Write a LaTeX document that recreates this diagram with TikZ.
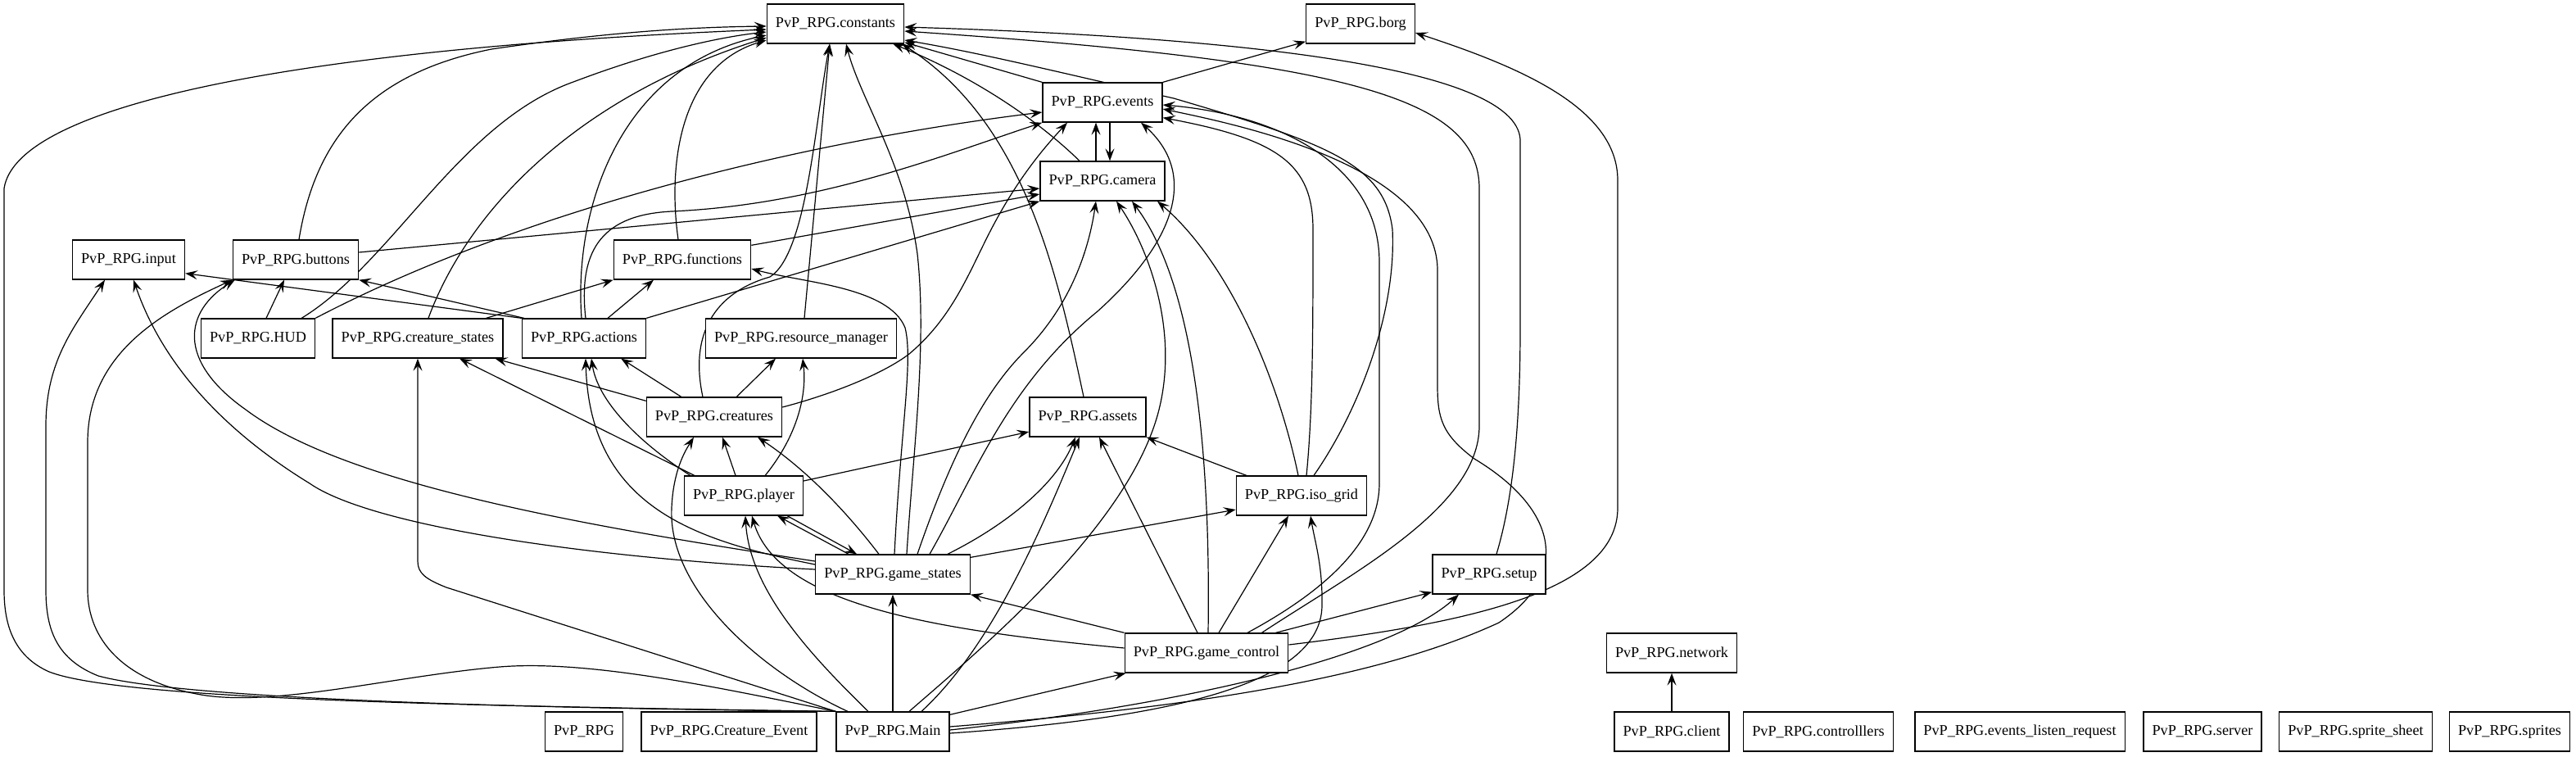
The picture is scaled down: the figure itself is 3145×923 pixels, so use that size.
\documentclass[tikz,border=0pt]{standalone}
\usepackage{fontspec}
\setmainfont{Liberation Serif}
\usepackage{tikz}
\usetikzlibrary{arrows.meta, calc, backgrounds}
\tikzset{
  modbox/.style={
    draw, line width=0.65pt, fill=white,
    inner xsep=5.3pt, inner ysep=0pt, minimum height=24pt,
    font=\fontsize{9.1}{10}\selectfont
  },
  dep/.style={-{Stealth[length=7.5pt, width=5.5pt, inset=3pt]}, line width=0.6pt},
}

\begin{document}
\begin{tikzpicture}[x=0.5pt, y=-0.5pt]
  \useasboundingbox (0,0) rectangle (3145,923);

  \node[modbox] (constants) at (1020,29) {PvP\_RPG.constants};
  \node[modbox] (borg) at (1661,29) {PvP\_RPG.borg};
  \node[modbox] (events) at (1346,125) {PvP\_RPG.events};
  \node[modbox] (camera) at (1346,221) {PvP\_RPG.camera};
  \node[modbox] (input) at (157,317) {PvP\_RPG.input};
  \node[modbox] (buttons) at (361,317) {PvP\_RPG.buttons};
  \node[modbox] (functions) at (833,317) {PvP\_RPG.functions};
  \node[modbox] (hud) at (315,413) {PvP\_RPG.HUD};
  \node[modbox] (cstates) at (510,413) {PvP\_RPG.creature\_states};
  \node[modbox] (actions) at (713,413) {PvP\_RPG.actions};
  \node[modbox] (resmgr) at (978,413) {PvP\_RPG.resource\_manager};
  \node[modbox] (creatures) at (872,509) {PvP\_RPG.creatures};
  \node[modbox] (assets) at (1328,509) {PvP\_RPG.assets};
  \node[modbox] (player) at (908,605) {PvP\_RPG.player};
  \node[modbox] (isogrid) at (1589,605) {PvP\_RPG.iso\_grid};
  \node[modbox] (gstates) at (1090,701) {PvP\_RPG.game\_states};
  \node[modbox] (setup) at (1818,701) {PvP\_RPG.setup};
  \node[modbox] (gcontrol) at (1473,797) {PvP\_RPG.game\_control};
  \node[modbox] (network) at (2041,797) {PvP\_RPG.network};
  \node[modbox] (pkg) at (713,893) {PvP\_RPG};
  \node[modbox] (cevent) at (890,893) {PvP\_RPG.Creature\_Event};
  \node[modbox] (main) at (1090,893) {PvP\_RPG.Main};
  \node[modbox] (client) at (2041,893) {PvP\_RPG.client};
  \node[modbox] (ctrls) at (2220,893) {PvP\_RPG.controlllers};
  \node[modbox] (elr) at (2466,893) {PvP\_RPG.events\_listen\_request};
  \node[modbox] (server) at (2689,893) {PvP\_RPG.server};
  \node[modbox] (sheet) at (2876,893) {PvP\_RPG.sprite\_sheet};
  \node[modbox] (sprites) at (3064,893) {PvP\_RPG.sprites};

  \begin{scope}[on background layer]
  \fill[white] (0,0) rectangle (3145,923);

  % Main
  \draw[dep] (main.north west) .. controls (600,862) and (150,855) .. (60,820) .. controls (15,800) and (5,760) .. (5,720) -- (5,230) .. controls (20,130) and (350,60) .. ($(constants.west)+(0,7)$);
  \draw[dep] (main.north west) .. controls (600,864) and (220,852) .. (120,825) .. controls (70,805) and (56,770) .. (56,720) -- (56,520) .. controls (56,440) and (90,400) .. ($(input.south)+(-29,0)$);
  \draw[dep] (main.north west) .. controls (880,840) and (720,805) .. (610,814) .. controls (480,825) and (330,865) .. (240,847) .. controls (150,830) and (107,780) .. (107,720) -- (107,540) .. controls (107,430) and (200,380) .. (buttons.south west);
  \draw[dep] (main.north west) -- (545,717) .. controls (520,707) and (510,700) .. (510,685) -- (cstates.south);
  \draw[dep] ($(main.north)+(-55,0)$) .. controls (930,820) and (815,720) .. (820,620) .. controls (822,570) and (840,545) .. ($(creatures.south)+(-25,0)$);
  \draw[dep] ($(main.north)+(-30,0)$) .. controls (990,800) and (915,720) .. ($(player.south)+(2,0)$);
  \draw[dep] (main) -- (gstates);
  \draw[dep] ($(main.north east)+(0,4)$) -- ($(gcontrol.south west)+(2,0)$);
  \draw[dep] ($(main.north)+(35,0)$) .. controls (1210,790) and (1270,650) .. ($(assets.south)+(-10,0)$);
  \draw[dep] ($(main.north)+(20,0)$) .. controls (1200,790) and (1380,640) .. (1415,500) .. controls (1440,400) and (1400,300) .. ($(camera.south)+(17,0)$);
  \draw[dep] ($(main.east)+(0,-6)$) .. controls (1500,860) and (1700,820) .. (1830,760) .. controls (1920,700) and (1900,620) .. (1800,560) .. controls (1760,530) and (1755,510) .. (1755,470) -- (1755,330) .. controls (1755,200) and (1500,150) .. ($(events.east)+(0,8)$);
  \draw[dep] ($(main.east)+(0,-2)$) .. controls (1450,860) and (1700,800) .. ($(setup.south)+(-37,0)$);
  \draw[dep] ($(main.east)+(0,2)$) .. controls (1450,875) and (1612,830) .. (1614,740) .. controls (1615,690) and (1605,660) .. ($(isogrid.south)+(11,0)$);

  % game_control
  \draw[dep] (gcontrol.north west) -- (gstates.south east);
  \draw[dep] ($(gcontrol.west)+(0,-6)$) .. controls (1150,770) and (950,740) .. ($(player.south)+(10,0)$);
  \draw[dep] ($(gcontrol.north)+(-11,0)$) -- ($(assets.south)+(14,0)$);
  \draw[dep] ($(gcontrol.north)+(2,0)$) .. controls (1478,560) and (1460,350) .. ($(camera.south)+(36,0)$);
  \draw[dep] ($(gcontrol.north)+(15,0)$) -- ($(isogrid.south)+(-16,0)$);
  \draw[dep] ($(gcontrol.north east)+(-16,0)$) -- ($(setup.south west)+(0,-3)$);
  \draw[dep] ($(gcontrol.north east)+(-33,0)$) .. controls (1650,700) and (1806,620) .. (1806,520) -- (1806,230) .. controls (1806,120) and (1650,75) .. ($(constants.east)+(0,9)$);
  \draw[dep] ($(gcontrol.north)+(50,0)$) .. controls (1620,720) and (1684,660) .. (1684,590) -- (1684,320) .. controls (1684,200) and (1560,140) .. ($(events.east)+(0,3)$);
  \draw[dep] ($(gcontrol.east)+(0,-10)$) .. controls (1800,760) and (1975,720) .. (1975,620) -- (1975,220) .. controls (1975,130) and (1850,80) .. ($(borg.east)+(0,11)$);

  % game_states
  \draw[dep] ($(gstates.west)+(0,-6)$) .. controls (700,680) and (450,640) .. (378,590) .. controls (280,530) and (200,450) .. ($(input.south)+(6,0)$);
  \draw[dep] ($(gstates.west)+(0,-16)$) .. controls (700,640) and (420,590) .. (300,500) .. controls (215,440) and (225,380) .. ($(buttons.south west)+(3,0)$);
  \draw[dep] ($(gstates.west)+(0,-12)$) .. controls (850,660) and (720,620) .. ($(actions.south)+(2,0)$);
  \draw[dep] ($(gstates.north)+(-17,0)$) .. controls (1030,620) and (980,570) .. ($(creatures.south)+(53,0)$);
  \draw[dep] ($(gstates.north west)+(41,0)$) -- ($(player.south east)+(-32,0)$);
  \draw[dep] ($(gstates.north)+(2,0)$) .. controls (1100,520) and (1115,440) .. (1105,400) .. controls (1085,350) and (980,345) .. ($(functions.east)+(0,11)$);
  \draw[dep] ($(gstates.north)+(17,0)$) .. controls (1115,550) and (1132,420) .. (1120,310) .. controls (1105,200) and (1050,120) .. ($(constants.south)+(13,0)$);
  \draw[dep] ($(gstates.north)+(30,0)$) .. controls (1160,560) and (1200,480) .. (1250,430) .. controls (1310,370) and (1330,300) .. ($(camera.south)+(-8,0)$);
  \draw[dep] ($(gstates.north)+(45,0)$) .. controls (1190,580) and (1230,470) .. (1340,380) .. controls (1440,290) and (1460,210) .. ($(events.south)+(47,0)$);
  \draw[dep] ($(gstates.north east)+(-28,0)$) .. controls (1230,640) and (1290,590) .. ($(assets.south)+(-15,0)$);
  \draw[dep] ($(gstates.north east)+(0,4)$) -- ($(isogrid.west)+(0,17)$);

  % player
  \draw[dep] ($(player.north west)+(13,0)$) -- ($(cstates.south)+(51,0)$);
  \draw[dep] ($(player.north west)+(8,0)$) .. controls (780,540) and (730,490) .. ($(actions.south)+(9,0)$);
  \draw[dep] ($(player.north)+(-10,0)$) -- ($(creatures.south)+(10,0)$);
  \draw[dep] ($(player.north east)+(-47,0)$) .. controls (975,530) and (985,480) .. ($(resmgr.south)+(2,0)$);
  \draw[dep] ($(player.east)+(0,-18)$) -- ($(assets.west)+(0,18)$);
  \draw[dep] ($(player.south east)+(-20,0)$) -- ($(gstates.north west)+(51,0)$);

  % iso_grid and setup
  \draw[dep] ($(isogrid.north west)+(13,0)$) -- (assets.south east);
  \draw[dep] ($(isogrid.north)+(-4,0)$) .. controls (1560,460) and (1500,320) .. ($(camera.south)+(67,0)$);
  \draw[dep] ($(isogrid.north)+(6,0)$) .. controls (1603,500) and (1603,400) .. (1603,280) .. controls (1603,200) and (1560,170) .. ($(events.south east)+(0,-6)$);
  \draw[dep] ($(isogrid.north)+(15,0)$) .. controls (1660,500) and (1705,380) .. (1700,280) .. controls (1690,200) and (1620,175) .. (1433,120) .. controls (1300,90) and (1200,65) .. ($(constants.east)+(0,20)$);
  \draw[dep] ($(setup.north)+(9,0)$) .. controls (1850,600) and (1856,500) .. (1856,400) -- (1856,170) .. controls (1850,80) and (1500,45) .. ($(constants.east)+(0,4)$);

  % creatures, assets, resource_manager
  \draw[dep] ($(creatures.north west)+(0,5)$) -- ($(cstates.south east)+(-10,0)$);
  \draw[dep] ($(creatures.north west)+(43,0)$) -- ($(actions.south east)+(-31,0)$);
  \draw[dep] ($(creatures.north east)+(-56,0)$) -- ($(resmgr.south)+(-31,0)$);
  \draw[dep] ($(creatures.north)+(-14,0)$) .. controls (840,400) and (880,355) .. (940,338) .. controls (985,310) and (995,150) .. ($(constants.south)+(-7,0)$);
  \draw[dep] ($(creatures.east)+(0,-12)$) .. controls (1020,480) and (1080,455) .. (1110,432) .. controls (1160,390) and (1180,340) .. (1205,290) .. controls (1240,220) and (1275,180) .. ($(events.south)+(-43,0)$);
  \draw[dep] ($(assets.north)+(-5,0)$) .. controls (1290,330) and (1250,150) .. ($(constants.south east)+(-3,0)$);
  \draw[dep] ($(resmgr.north)+(4,0)$) -- ($(constants.south)+(-7,0)$);

  % actions, creature_states, HUD
  \draw[dep] (actions.north west) -- ($(input.south east)+(0,-8)$);
  \draw[dep] ($(actions.north west)+(3,0)$) -- (buttons.south east);
  \draw[dep] ($(actions.north)+(29,0)$) -- ($(functions.south)+(-35,0)$);
  \draw[dep] ($(actions.north)+(-3,0)$) .. controls (700,250) and (760,80) .. ($(constants.west)+(0,14)$);
  \draw[dep] ($(actions.north)+(2,0)$) .. controls (705,300) and (740,262) .. (820,258) .. controls (1000,250) and (1150,190) .. (events.south west);
  \draw[dep] (actions.north east) -- (camera.south west);
  \draw[dep] ($(cstates.north)+(13,0)$) .. controls (570,260) and (700,120) .. ($(constants.west)+(0,17)$);
  \draw[dep] ($(cstates.north east)+(-21,0)$) -- (functions.south west);
  \draw[dep] ($(hud.north)+(10,0)$) -- ($(buttons.south)+(-14,0)$);
  \draw[dep] ($(hud.north east)+(-17,0)$) .. controls (480,320) and (560,150) .. (700,100) .. controls (800,62) and (880,45) .. ($(constants.west)+(0,10)$);
  \draw[dep] (hud.north east) .. controls (650,250) and (1000,170) .. ($(events.west)+(0,12)$);

  % buttons, functions, events, camera
  \draw[dep] ($(buttons.north)+(4,0)$) .. controls (385,170) and (450,90) .. (600,60) .. controls (750,38) and (850,33) .. ($(constants.west)+(0,3)$);
  \draw[dep] ($(buttons.east)+(0,-9)$) -- ($(camera.west)+(0,9)$);
  \draw[dep] ($(functions.north)+(-5,0)$) .. controls (815,200) and (830,80) .. ($(constants.west)+(0,20)$);
  \draw[dep] ($(functions.north east)+(0,7)$) -- ($(camera.west)+(0,16)$);
  \draw[dep] (events.north west) -- ($(constants.south east)+(0,-2)$);
  \draw[dep] (events.north east) -- ($(borg.south west)+(0,-3)$);
  \draw[dep] ($(events.south)+(9,0)$) -- ($(camera.north)+(9,0)$);
  \draw[dep] ($(camera.north)+(-28,0)$) .. controls (1260,140) and (1180,90) .. ($(constants.south east)+(-14,0)$);
  \draw[dep] ($(camera.north)+(-8,0)$) -- ($(events.south)+(-8,0)$);

  \draw[dep] (client) -- (network);
  \end{scope}
\end{tikzpicture}
\end{document}
